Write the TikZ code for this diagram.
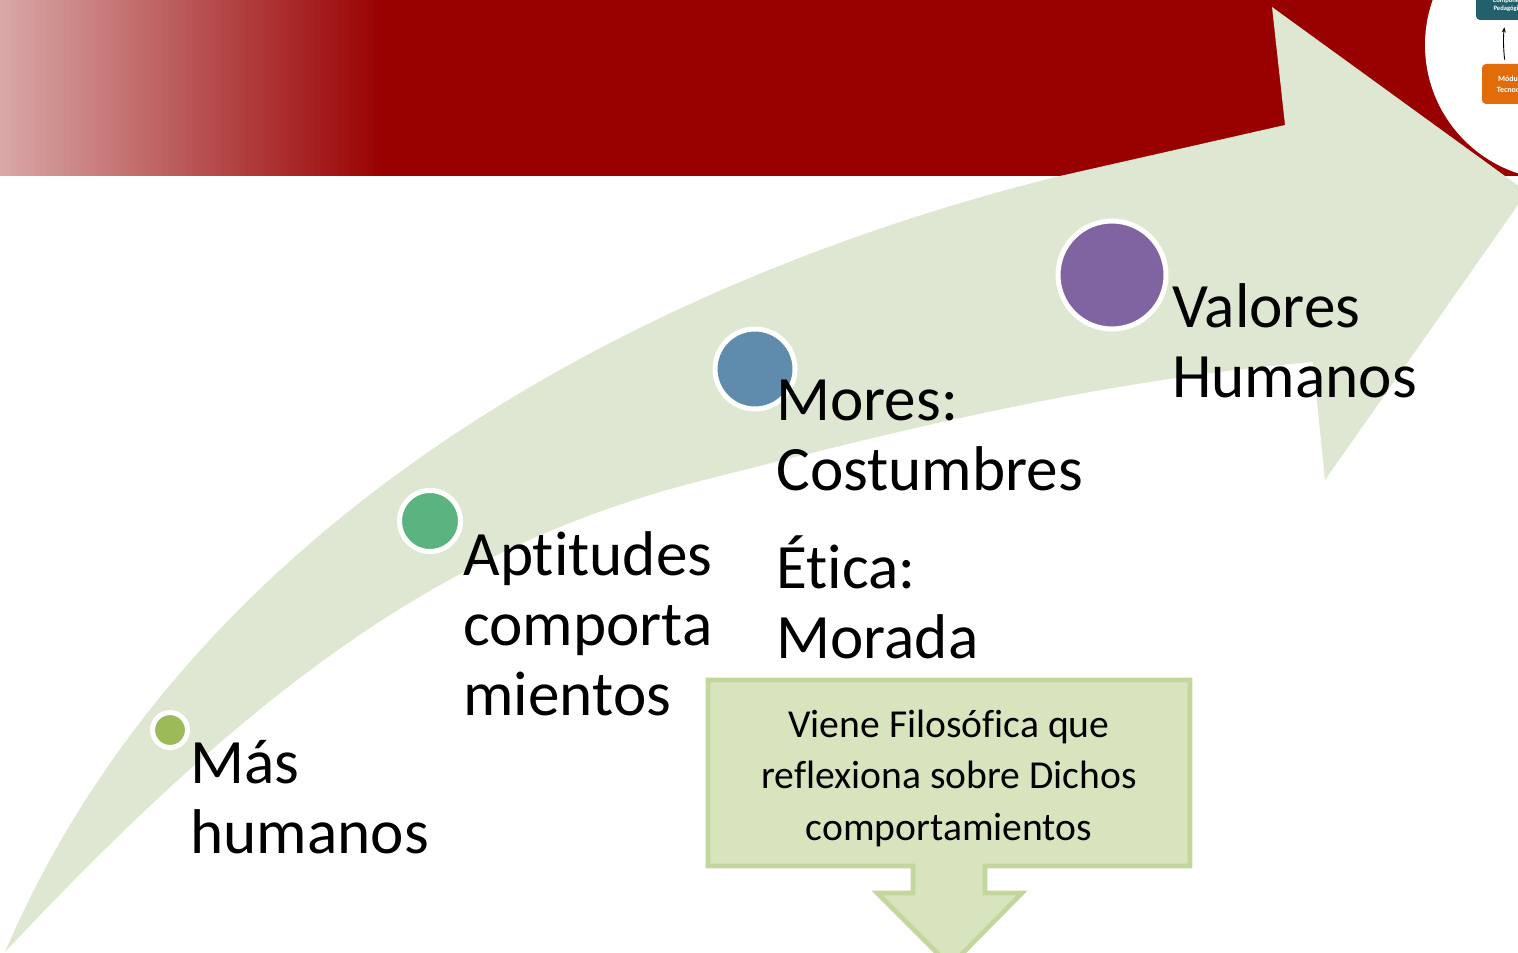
\documentclass[tikz,border=0pt]{standalone}
\usepackage{fontspec}
\setmainfont{Carlito}[Ligatures=NoCommon]
\usetikzlibrary{arrows.meta}
\definecolor{bandred}{HTML}{990000}
\definecolor{bandpink}{HTML}{D9A8A8}
\definecolor{bandmid}{HTML}{BE5C5C}
\definecolor{arrowgreen}{HTML}{DEE7D1}
\definecolor{dotA}{HTML}{9BBB59}
\definecolor{dotB}{HTML}{5BB37F}
\definecolor{dotC}{HTML}{5F8BAD}
\definecolor{dotD}{HTML}{8064A2}
\definecolor{callfill}{HTML}{D7E4BD}
\definecolor{callline}{HTML}{C3D69B}
\definecolor{tealbox}{HTML}{22606D}
\definecolor{orangebox}{HTML}{E36C0A}
\begin{document}
\begin{tikzpicture}[x=0.5pt,y=-0.5pt,
  lbl/.style={anchor=base west, inner sep=0pt, align=left, font=\fontsize{31.6}{35}\selectfont},
  dot/.style={circle, draw=white, line width=2.5pt, inner sep=0pt},
  calltxt/.style={anchor=base, inner sep=0pt, align=center, font=\fontsize{19.8}{25.75}\selectfont},
  calloutshape/.style={fill=callfill, draw=callline, line width=2.3pt, line join=miter},
  minibox/.style={rounded corners=2pt, inner sep=0pt, text=white, align=center}]
\useasboundingbox (0,0) rectangle (1518,952);
\clip (0,0) rectangle (1518,952);
\fill[white] (0,0) rectangle (1518,952);
% red header band
\shade[left color=bandpink, middle color=bandmid, right color=bandred] (0,0) rectangle (385,176);
\fill[bandred] (384,0) rectangle (1518,176);
\fill[white] (1560,45) circle[radius=67.5pt];
% tiny boxes in the corner
\node[minibox, fill=tealbox, minimum width=30pt, minimum height=15pt,
      font=\bfseries\fontsize{3.3}{3.75}\selectfont] (tb) at (1506,5) {Compone\\Pedagógi};
\node[minibox, fill=orangebox, minimum width=27pt, minimum height=20pt,
      font=\bfseries\fontsize{4}{5.5}\selectfont] (ob) at (1509,84) {Módul\\Tecnoci};
\draw[-{Stealth[length=2.5pt,width=2pt]}, line width=0.45pt, shorten <=2pt, shorten >=3.5pt]
  ([xshift=-2pt]ob.north) to[bend left=6] ([xshift=-0.5pt]tb.south);
% big curved arrow
\fill[arrowgreen]
  (5,952) .. controls (190,520) and (640,280) .. (1060,176) -- (1285,125)
  -- (1272,7) -- (1527,192) -- (1325,480) -- (1313,362)
  .. controls (1100,380) and (900,430) .. (700,481)
  .. controls (450,545) and (260,680) .. (5,952) -- cycle;
% dots
\node[dot, fill=dotA, minimum size=17.5pt] (d1) at (170,730) {};
\node[dot, fill=dotB, minimum size=30.5pt] (d2) at (430,521) {};
\node[dot, fill=dotC, minimum size=40pt] (d3) at (755,369) {};
\node[dot, fill=dotD, minimum size=54pt] (d4) at (1112,275) {};
% labels (anchored at the baseline of their last line)
\node[lbl] (l1) at (190,853) {Más\\humanos};
\node[lbl] (l2) at (463,715) {Aptitudes\\comporta\\mientos};
\node[lbl] (l3) at (776,658) {Mores:\\Costumbres\\[14pt]Ética:\\Morada};
\node[lbl] (l4) at (1172,397) {Valores\\Humanos};
% callout
\draw[calloutshape] (708,680) -- (1190,680) -- (1190,866) -- (985,866) -- (985,893) -- (1022,893)
  -- (950,966) -- (877,893) -- (913,893) -- (913,866) -- (708,866) -- cycle;
\node[calltxt] (ct) at (949,840) {Viene Filosófica que\\reflexiona sobre Dichos\\comportamientos};
\end{tikzpicture}
\end{document}
